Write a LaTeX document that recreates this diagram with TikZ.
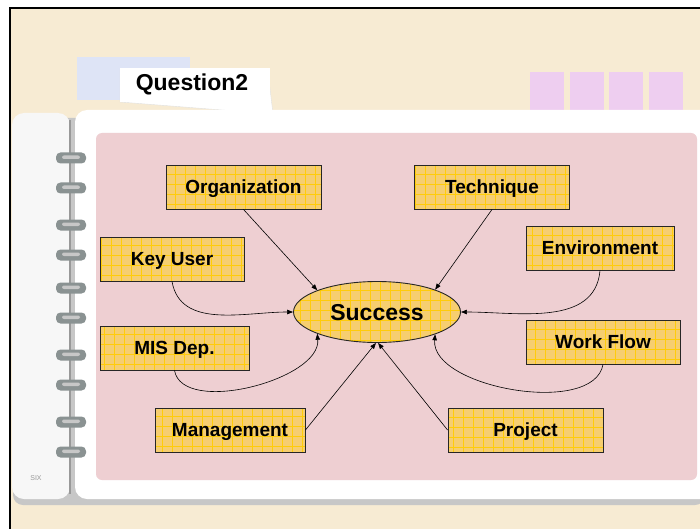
\documentclass[tikz,border=0pt]{standalone}
\usepackage{fontspec}
\setmainfont{Liberation Sans}
\usetikzlibrary{arrows.meta,shapes.geometric}
\definecolor{cream}{RGB}{247,235,211}
\definecolor{pagepink}{RGB}{238,207,210}
\definecolor{boxfill}{RGB}{246,206,112}
\definecolor{gridyellow}{RGB}{255,204,10}
\definecolor{tablilac}{RGB}{238,206,240}
\definecolor{tabblue}{RGB}{222,228,246}
\definecolor{ringgrey}{RGB}{138,146,146}
\tikzset{
  boxgrid/.style={path picture={\draw[gridyellow, line width=0.4pt]
      (path picture bounding box.south west) grid[step=10pt]
      (path picture bounding box.north east);}},
  factor/.style={draw=black!85, line width=0.9pt, fill=boxfill, boxgrid,
    minimum height=44pt, inner sep=0pt, text depth=0pt,
    font=\fontsize{19}{22}\selectfont\bfseries},
  goal/.style={ellipse, draw=black!85, line width=0.9pt, fill=boxfill, boxgrid,
    minimum width=167pt, minimum height=61pt, inner sep=0pt, text depth=0pt,
    font=\fontsize{23}{26}\selectfont\bfseries},
  link/.style={-{Triangle[length=6pt,width=4.5pt]}, line width=0.6pt},
}
\begin{document}
\begin{tikzpicture}[x=1pt, y=-1pt]
  \useasboundingbox (0,0) rectangle (700,529);
  % Frame
  \fill[white] (0,0) rectangle (700,529);
  \fill[cream] (10,8) rectangle (700,529);
  \draw[line width=2pt] (10,529) -- (10,8) -- (700,8);
  % Tabs
  \foreach \x in {530,570,609,649}
    \fill[tablilac] (\x,72) rectangle ++(34,38);
  \fill[tabblue] (77,57) rectangle (190,100);
  \filldraw[fill=white, draw=black!12] (120,70) -- (268,72) -- (273,114) -- (120,102) -- cycle;
  \fill[white] (120,68) rectangle (270,102);
  \node[font=\fontsize{23}{26}\selectfont\bfseries, text depth=0pt] (qtitle) at (192,82) {Question2};
  % Notebook pages
  \fill[black!22, rounded corners=10pt] (13,118) rectangle (705,505);
  \fill[black!3, rounded corners=12pt] (12,113) rectangle (70,499);
  \fill[white, rounded corners=12pt] (75,110) rectangle (712,499);
  \draw[black!40, line width=1.2pt] (70,120) -- (70,494);
  \fill[pagepink, rounded corners=6pt] (96,133) rectangle (697,480);
  % Rings
  \foreach \y in {158,188,225,255,288,318,355,385,422,452} {
    \fill[ringgrey, rounded corners=4.5pt] (56,\y-5.5) rectangle (86,\y+5.5);
    \fill[black!22, rounded corners=2pt] (62,\y-2.5) rectangle (80,\y+1);
  }
  \node[black!40, font=\fontsize{7}{8}\selectfont] (six) at (36,478) {SIX};
  % Factors
  \node[factor, minimum width=155pt] (org) at (243.5,187) {Organization};
  \node[factor, minimum width=155pt] (tech) at (492,187) {Technique};
  \node[factor, minimum width=144pt] (keyuser) at (172,259) {Key User};
  \node[factor, minimum width=148pt] (env) at (600,248) {Environment};
  \node[factor, minimum width=149pt] (mis) at (174.5,348) {MIS Dep.};
  \node[factor, minimum width=154pt] (flow) at (603,342) {Work Flow};
  \node[factor, minimum width=150pt] (mgmt) at (230,430) {Management};
  \node[factor, minimum width=155pt] (proj) at (525.5,430) {Project};
  \node[goal] (succ) at (377,312) {Success};
  % Links
  \draw[link] (org.south) -- (succ.160);
  \draw[link] (tech.south) -- (succ.21);
  \draw[link] (keyuser.south) to[out=-80, in=180] (succ.west);
  \draw[link] (env.south) to[out=-95, in=0] (succ.east);
  \draw[link] (mis.south) to[out=-80, in=-85, looseness=0.8] (succ.200);
  \draw[link] (flow.south) to[out=-100, in=-95, looseness=0.8] (succ.339);
  \draw[link] (mgmt.east) -- (succ.268);
  \draw[link] (proj.west) -- (succ.272);
\end{tikzpicture}
\end{document}
